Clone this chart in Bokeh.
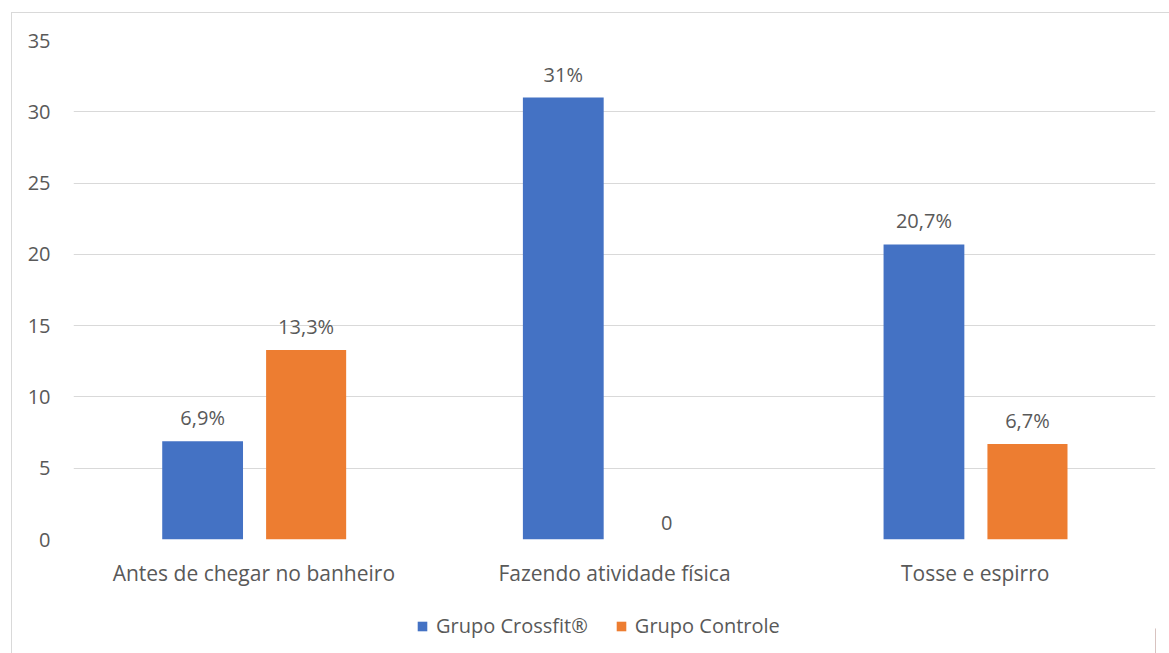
from bokeh.plotting import figure
from bokeh.models import ColumnDataSource, FactorRange, Legend, LegendItem, LabelSet, FixedTicker
from bokeh.core.properties import value
from bokeh.transform import dodge
from bokeh.layouts import column
from bokeh.embed import file_html
from bokeh.resources import INLINE

categories = ["Antes de chegar no banheiro", "Fazendo atividade física", "Tosse e espirro"]
crossfit = [6.9, 31, 20.7]
controle = [13.3, 0, 6.7]
crossfit_labels = ["6,9%", "31%", "20,7%"]
controle_labels = ["13,3%", "0", "6,7%"]
series_names = ["Grupo Crossfit®", "Grupo Controle"]
y_ticks = [0, 5, 10, 15, 20, 25, 30, 35]

FONT = "Open Sans"
TXT = "#595959"
BLUE = "#4472C4"
ORANGE = "#ED7D31"
FS = "20px"

src = ColumnDataSource(dict(cat=categories, a=crossfit, b=controle,
                            la=crossfit_labels, lb=controle_labels))

p = figure(width=1157, height=590, output_backend="svg", toolbar_location=None,
           x_range=FactorRange(*categories, range_padding=0, factor_padding=0),
           y_range=(0, 35),
           min_border_left=61, min_border_right=14, min_border_top=27, min_border_bottom=64)
p.outline_line_color = None
p.background_fill_color = "white"
p.border_fill_color = "white"

p.vbar(x=dodge("cat", -0.142, range=p.x_range), top="a", width=0.224, source=src,
       fill_color=BLUE, line_color=None)
p.vbar(x=dodge("cat", 0.145, range=p.x_range), top="b", width=0.222, source=src,
       fill_color=ORANGE, line_color=None)

for field, lab, off in (("a", "la", -0.142), ("b", "lb", 0.145)):
    ls = LabelSet(x=dodge("cat", off, range=p.x_range), y=field, text=lab, source=src,
                  text_align="center", text_baseline="bottom", y_offset=10,
                  text_font=value(FONT), text_font_size=FS, text_color=TXT)
    p.add_layout(ls)

p.yaxis.ticker = FixedTicker(ticks=y_ticks)
p.yaxis.axis_line_color = None
p.yaxis.major_tick_line_color = None
p.yaxis.minor_tick_line_color = None
p.yaxis.major_label_text_font = FONT
p.yaxis.major_label_text_font_size = FS
p.yaxis.major_label_text_color = TXT
p.yaxis.major_label_standoff = 17

p.xaxis.axis_line_color = None
p.xaxis.major_tick_line_color = None
p.xaxis.major_label_text_font = FONT
p.xaxis.major_label_text_font_size = "21px"
p.xaxis.major_label_text_color = TXT
p.xaxis.major_label_standoff = 13

p.xgrid.grid_line_color = None
p.ygrid.grid_line_color = "#d9d9d9"
p.ygrid.grid_line_width = 1

# legend strip (its proxy bars lie outside the strip's visible range)
p2 = figure(width=1157, height=50, output_backend="svg", toolbar_location=None,
            x_range=(0, 1), y_range=(0, 1),
            min_border_left=0, min_border_right=0, min_border_top=0, min_border_bottom=0)
p2.outline_line_color = None
p2.axis.visible = False
p2.grid.visible = False
p2.background_fill_color = "white"
p2.border_fill_color = "white"
la = p2.vbar(x=[5], top=[0.5], width=0.1, fill_color=BLUE, line_color=None)
lb = p2.vbar(x=[6], top=[0.5], width=0.1, fill_color=ORANGE, line_color=None)

legend = Legend(items=[LegendItem(label=series_names[0], renderers=[la]),
                       LegendItem(label=series_names[1], renderers=[lb])],
                orientation="horizontal", location=(343, 14),
                label_text_font=FONT, label_text_font_size=FS, label_text_color=TXT,
                glyph_width=12, glyph_height=12, spacing=27, label_standoff=8,
                border_line_color=None, background_fill_alpha=0, padding=0, margin=0)
p2.add_layout(legend, "center")

layout = column(p, p2, spacing=0,
                styles={"margin-left": "11px", "margin-top": "12px",
                        "border-left": "1px solid #d9d9d9", "border-top": "1px solid #d9d9d9"})

open("out.html", "w").write(file_html(layout, INLINE))
